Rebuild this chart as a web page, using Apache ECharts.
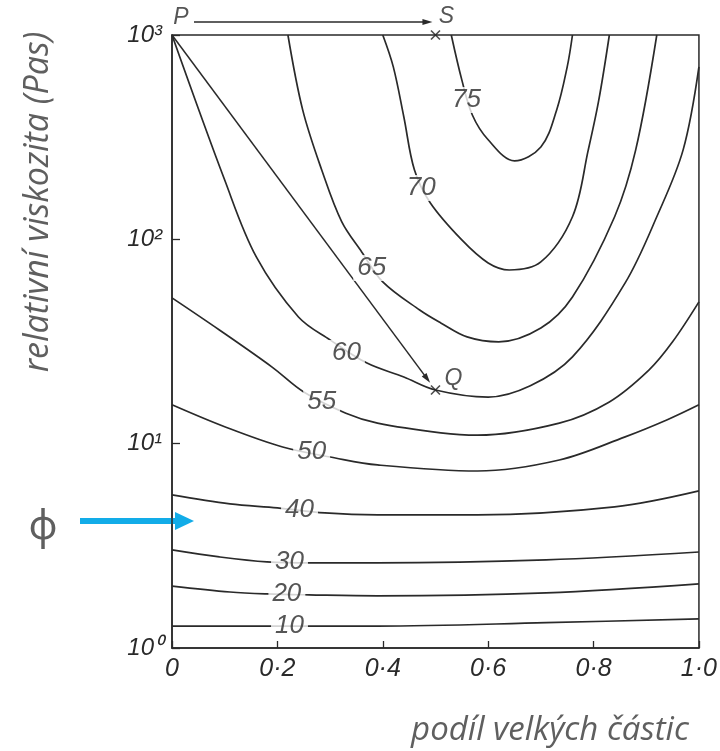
<!DOCTYPE html>
<html>
<head>
<meta charset="utf-8">
<script src="https://cdn.jsdelivr.net/npm/echarts@6/dist/echarts.min.js"></script>
<style>
html, body {margin: 0; padding: 0; background: #fff;}
#main {width: 720px; height: 751px;}
</style>
</head>
<body>
<div id="main"></div>
<script>
// 等值线数据  [podíl velkých částic, relativní viskozita]
var c10 = [[0, 1.28], [0.19, 1.28], [0.39, 1.28], [0.71, 1.33], [1, 1.39]]
var c20 = [[0, 2.01], [0.11, 1.88], [0.18, 1.84], [0.26, 1.82], [0.39, 1.80], [0.71, 1.86], [1, 2.06]]
var c30 = [[0, 3.02], [0.09, 2.79], [0.18, 2.64], [0.27, 2.61], [0.39, 2.61], [0.71, 2.70], [1, 2.95]]
var c40 = [[0, 5.61], [0.11, 5.07], [0.2, 4.85], [0.29, 4.58], [0.39, 4.48], [0.58, 4.48], [0.84, 4.90], [1, 5.87]]
var c50 = [[0, 15.5], [0.1, 12.1], [0.21, 9.63], [0.31, 8.51], [0.39, 7.87], [0.58, 7.35], [0.735, 8.32], [0.86, 10.8], [0.94, 13.1], [1, 15.5]]
var c55 = [[0, 51.7], [0.09, 36], [0.19, 23.7], [0.25, 17.9], [0.33, 14.1], [0.39, 12.6], [0.51, 11.3], [0.58, 11.0], [0.735, 12.6], [0.83, 16.0], [0.905, 22.9], [0.95, 31.5], [1, 49.4]]
var c60 = [[0, 1000], [0.1, 195], [0.16, 82], [0.24, 41.7], [0.3, 32.2], [0.37, 24.8], [0.44, 21.2], [0.5, 18.3], [0.6, 16.9], [0.68, 19.2], [0.76, 26.6], [0.86, 61.2], [0.92, 129], [0.97, 274], [1, 698]]
var c65 = [[0.22, 1000], [0.248, 430], [0.284, 219], [0.322, 122], [0.36, 86.8], [0.4, 61.9], [0.47, 45.1], [0.51, 39], [0.56, 33.3], [0.62, 31.5], [0.7, 36.8], [0.76, 52.2], [0.84, 129], [0.88, 274], [0.92, 1000]]
var c70 = [[0.4, 1000], [0.42, 698], [0.44, 397], [0.46, 219], [0.49, 151], [0.55, 99.3], [0.6, 76.6], [0.64, 70.8], [0.7, 77.5], [0.76, 129], [0.79, 274], [0.81, 481], [0.83, 1000]]
var c75 = [[0.53, 1000], [0.55, 603], [0.57, 406], [0.6, 307], [0.65, 242], [0.7, 283], [0.73, 430], [0.75, 698], [0.76, 1000]]

var levels = ['10', '20', '30', '40', '50', '55', '60', '65', '70', '75']
var contours = [c10, c20, c30, c40, c50, c55, c60, c65, c70, c75]
// 等值线标签的位置
var labelPos = [[0.223, 1.28], [0.218, 1.84], [0.223, 2.64], [0.242, 4.74], [0.265, 9.11],
    [0.284, 16.0], [0.331, 27.8], [0.379, 72.4], [0.473, 178.5], [0.559, 481]]

// 刻度标签
var xTicks = ['0', '0·2', '0·4', '0·6', '0·8', '1·0']
var yTicks = ['10⁰', '10¹', '10²', '10³']

// 点 P S Q
var pointNames = ['P', 'S', 'Q']
var pointP = [0, 1000]
var pointS = [0.5, 1000]
var pointQ = [0.5, 18.3]

var lineColor = '#2a2a2a'
var textColor = '#2a2a2a'

var chartDom = document.getElementById('main');
var myChart = echarts.init(chartDom);
var option;

var series = []
for (let i = 0; i < contours.length; i++) {
    series.push({
        type: 'line',
        name: levels[i],
        data: contours[i],
        smooth: 0.35,
        showSymbol: false,
        silent: true,
        animation: false,
        z: 2,
        lineStyle: {color: lineColor, width: 1.7}
    })
}

// 等值线数值（白底遮住线条）
series.push({
    type: 'scatter',
    symbolSize: 1,
    animation: false,
    z: 5,
    itemStyle: {color: 'rgba(0,0,0,0)'},
    data: labelPos.map(function (p, i) {
        return {value: p, name: levels[i]}
    }),
    label: {
        show: true,
        position: 'inside',
        formatter: '{b}',
        backgroundColor: '#fff',
        padding: [0, 4],
        fontFamily: 'Liberation Sans',
        fontStyle: 'italic',
        fontSize: 26,
        color: textColor
    }
})

// × 标记
series.push({
    type: 'scatter',
    symbol: 'path://M0,0L10,10M10,0L0,10',
    symbolSize: 9,
    animation: false,
    z: 6,
    itemStyle: {color: 'none', borderColor: '#222', borderWidth: 1.6},
    data: [pointS, pointQ]
})

// 点的名字
var nameOffsets = [[9, -17], [11, -18], [18, -11]]
series.push({
    type: 'scatter',
    symbolSize: 1,
    animation: false,
    z: 6,
    itemStyle: {color: 'rgba(0,0,0,0)'},
    data: [pointP, pointS, pointQ].map(function (p, i) {
        return {
            value: p, name: pointNames[i],
            label: {offset: nameOffsets[i]}
        }
    }),
    label: {
        show: true,
        position: 'inside',
        formatter: '{b}',
        fontFamily: 'Liberation Sans',
        fontStyle: 'italic',
        fontSize: 23,
        color: textColor
    }
})

option = {
    animation: false,
    backgroundColor: '#fff',
    grid: {
        left: 172,
        right: 20,
        top: 35,
        bottom: 103,
        show: true,
        borderColor: lineColor,
        borderWidth: 1.5
    },
    xAxis: {
        type: 'value',
        min: 0,
        max: 1,
        interval: 0.2,
        splitLine: {show: false},
        axisLine: {lineStyle: {color: lineColor, width: 1.5}},
        axisTick: {inside: true, length: 7, lineStyle: {color: lineColor, width: 1.3}},
        axisLabel: {
            margin: 9,
            fontFamily: 'Liberation Sans',
            fontStyle: 'italic',
            fontSize: 25,
            color: textColor,
            formatter: function (v) {
                return xTicks[Math.round(v * 5)]
            }
        }
    },
    yAxis: {
        type: 'log',
        logBase: 10,
        min: 1,
        max: 1000,
        splitLine: {show: false},
        minorTick: {show: false},
        axisLine: {lineStyle: {color: lineColor, width: 1.5}},
        axisTick: {inside: true, length: 8, lineStyle: {color: lineColor, width: 1.3}},
        axisLabel: {
            margin: 10,
            fontFamily: 'Liberation Sans',
            fontStyle: 'italic',
            fontSize: 24,
            color: textColor,
            formatter: function (v) {
                return yTicks[Math.round(Math.log10(v))]
            }
        }
    },
    series: series
};

option && myChart.setOption(option);

// 箭头
function arrowHead(tip, ux, uy, len, half) {
    var bx = tip[0] - ux * len, by = tip[1] - uy * len
    return [tip, [bx - uy * half, by + ux * half], [bx + uy * half, by - ux * half]]
}

var pP = myChart.convertToPixel({gridIndex: 0}, pointP)
var pS = myChart.convertToPixel({gridIndex: 0}, pointS)
var pQ = myChart.convertToPixel({gridIndex: 0}, pointQ)

// P -> S 在图框上方
var yPS = pP[1] - 13
var sEnd = [pS[0] - 3, yPS]
// P -> Q
var dx = pQ[0] - pP[0], dy = pQ[1] - pP[1]
var dl = Math.sqrt(dx * dx + dy * dy)
var ux = dx / dl, uy = dy / dl
var qEnd = [pQ[0] - ux * 9, pQ[1] - uy * 9]

var titleColor = '#5f5f5f'
var graphics = [
    {type: 'line', shape: {x1: pP[0] + 22, y1: yPS, x2: sEnd[0] - 8, y2: yPS}, style: {stroke: lineColor, lineWidth: 1.6}},
    {type: 'polygon', shape: {points: arrowHead(sEnd, 1, 0, 10, 3)}, style: {fill: lineColor}},
    {type: 'line', shape: {x1: pP[0], y1: pP[1], x2: qEnd[0] - ux * 8, y2: qEnd[1] - uy * 8}, style: {stroke: lineColor, lineWidth: 1.5}},
    {type: 'polygon', shape: {points: arrowHead(qEnd, ux, uy, 10, 3)}, style: {fill: lineColor}},
    // 蓝色箭头和 ϕ
    {type: 'line', shape: {x1: 80, y1: 521, x2: 178, y2: 521}, style: {stroke: '#12ace8', lineWidth: 6}},
    {type: 'polygon', shape: {points: [[194, 521], [175, 512], [175, 530]]}, style: {fill: '#12ace8'}},
    {type: 'text', x: 43, y: 528, style: {text: 'ϕ', fontSize: 40, fontFamily: 'Noto Sans', fill: titleColor, align: 'center', verticalAlign: 'middle'}},
    // 坐标轴名称
    {type: 'text', x: 550, y: 731, style: {text: 'podíl velkých částic', fontSize: 33, fontStyle: 'italic', fontFamily: 'Open Sans', fill: titleColor, align: 'center', verticalAlign: 'middle'}},
    {type: 'text', x: 38, y: 202, rotation: Math.PI / 2, style: {text: 'relativní viskozita (Pas)', fontSize: 34, fontStyle: 'italic', fontFamily: 'Open Sans', fill: titleColor, align: 'center', verticalAlign: 'middle'}}
]
myChart.setOption({graphic: graphics})
</script>
</body>
</html>
